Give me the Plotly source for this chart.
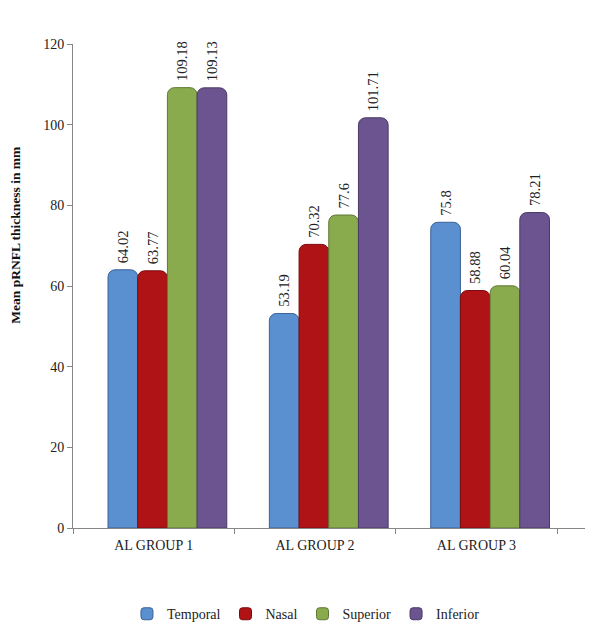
import plotly.graph_objects as go

categories = ["AL GROUP 1", "AL GROUP 2", "AL GROUP 3"]
series_names = ["Temporal", "Nasal", "Superior", "Inferior"]
temporal = [64.02, 53.19, 75.8]
nasal = [63.77, 70.32, 58.88]
superior = [109.18, 77.6, 60.04]
inferior = [109.13, 101.71, 78.21]
colors = ["#5A8FD0", "#B01316", "#8AAA4E", "#6B5490"]
edge_colors = ["#3A6296", "#7A0A0C", "#5E7834", "#4A3A66"]

values = [temporal, nasal, superior, inferior]
serif = "Liberation Serif, Times New Roman, serif"

bar_w = 0.184
start = -0.283

fig = go.Figure()
for i, (name, vals) in enumerate(zip(series_names, values)):
    fig.add_trace(go.Bar(
        x=categories, y=vals, name=name,
        width=bar_w, offset=start + i * bar_w,
        marker=dict(color=colors[i], line=dict(color=edge_colors[i], width=1)),
        text=["\u00a0" + str(v) for v in vals],
        textposition="outside", textangle=-90, constraintext="none",
        textfont=dict(family=serif, size=14.5, color="#222222"),
        cliponaxis=False,
    ))

fig.update_layout(
    width=594, height=633,
    margin=dict(l=73, r=9, t=44, b=105, autoexpand=False),
    paper_bgcolor="white", plot_bgcolor="white",
    barmode="group", barcornerradius=7,
    font=dict(family=serif, size=14, color="#222222"),
    showlegend=True,
    legend=dict(orientation="h", x=0.455, xanchor="center", y=-0.178, yanchor="middle",
                font=dict(family=serif, size=14, color="#222222"), itemwidth=30,
                traceorder="normal"),
    xaxis=dict(type="category", range=[-0.5, 2.673], showline=True, linecolor="#868686",
               linewidth=1, ticks="outside", tickson="boundaries", ticklen=5,
               tickcolor="#868686", showgrid=False, ticklabelstandoff=4,
               tickfont=dict(family=serif, size=14, color="#222222")),
    yaxis=dict(range=[0, 120], dtick=20, showline=True, linecolor="#868686", linewidth=1,
               ticks="outside", ticklen=5, tickcolor="#868686", showgrid=False,
               zeroline=False,
               tickfont=dict(family=serif, size=14, color="#222222")),
    annotations=[dict(text="<b>Mean pRNFL thickness in mm</b>", textangle=-90,
                      xref="paper", yref="paper", x=0, xshift=-67, y=0.605,
                      showarrow=False, font=dict(family=serif, size=13.5, color="#111111"))],
)

fig.write_html("out.html")
